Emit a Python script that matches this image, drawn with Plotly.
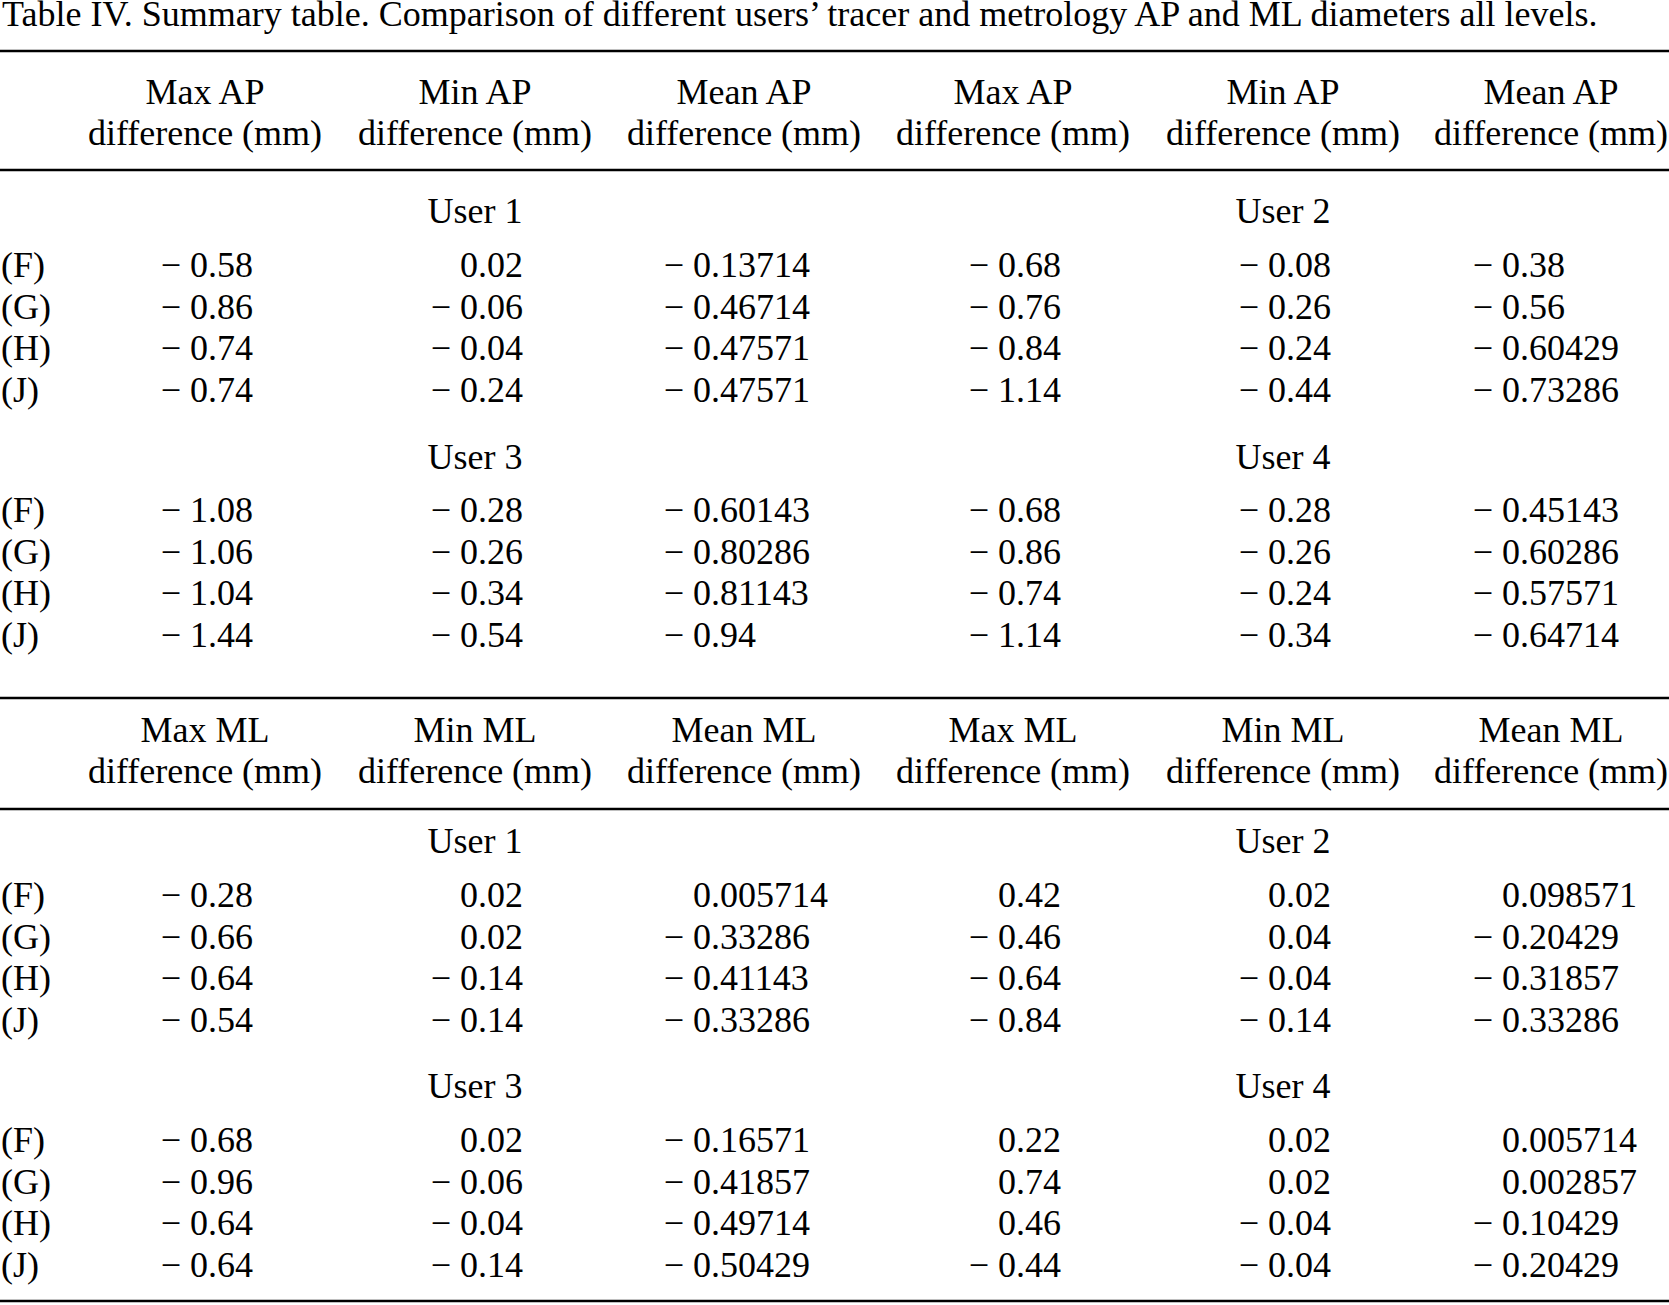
import plotly.graph_objects as go

# ---- data ----
title = ("Table IV. Summary table. Comparison of different users\u2019 tracer "
         "and metrology AP and ML diameters all levels.")
levels = ["(F)", "(G)", "(H)", "(J)"]
users = ["User 1", "User 2", "User 3", "User 4"]
ap_headers = ["Max AP", "Min AP", "Mean AP"]
ml_headers = ["Max ML", "Min ML", "Mean ML"]
unit = "difference (mm)"

# rows F,G,H,J ; columns max, min, mean
ap_user1 = [[-0.58, 0.02, -0.13714], [-0.86, -0.06, -0.46714],
            [-0.74, -0.04, -0.47571], [-0.74, -0.24, -0.47571]]
ap_user2 = [[-0.68, -0.08, -0.38], [-0.76, -0.26, -0.56],
            [-0.84, -0.24, -0.60429], [-1.14, -0.44, -0.73286]]
ap_user3 = [[-1.08, -0.28, -0.60143], [-1.06, -0.26, -0.80286],
            [-1.04, -0.34, -0.81143], [-1.44, -0.54, -0.94]]
ap_user4 = [[-0.68, -0.28, -0.45143], [-0.86, -0.26, -0.60286],
            [-0.74, -0.24, -0.57571], [-1.14, -0.34, -0.64714]]

ml_user1 = [[-0.28, 0.02, 0.005714], [-0.66, 0.02, -0.33286],
            [-0.64, -0.14, -0.41143], [-0.54, -0.14, -0.33286]]
ml_user2 = [[0.42, 0.02, 0.098571], [-0.46, 0.04, -0.20429],
            [-0.64, -0.04, -0.31857], [-0.84, -0.14, -0.33286]]
ml_user3 = [[-0.68, 0.02, -0.16571], [-0.96, -0.06, -0.41857],
            [-0.64, -0.04, -0.49714], [-0.64, -0.14, -0.50429]]
ml_user4 = [[0.22, 0.02, 0.005714], [0.74, 0.02, 0.002857],
            [0.46, -0.04, -0.10429], [-0.44, -0.04, -0.20429]]

# ---- layout (page pixels) ----
W, H = 1669, 1305
FS = 36
FONT = "Liberation Serif"
head_x = [205, 475, 744, 1013, 1283, 1551]
dec_x = [208, 478, 711, 1016, 1286, 1520]
user_x = [head_x[1], head_x[4]]
row_step = 41.5
YOFF = 3           # text centre -> point offset

sections = [
    dict(headers=ap_headers, blocks=[(ap_user1, ap_user2), (ap_user3, ap_user4)],
         rules=(51, 170), head_y=(91.5, 133), user_y=(211, 457), row_y=(265, 510)),
    dict(headers=ml_headers, blocks=[(ml_user1, ml_user2), (ml_user3, ml_user4)],
         rules=(698, 809), head_y=(730, 771), user_y=(841, 1086), row_y=(895, 1140)),
]
bottom_rule = 1301

int_x, int_y, int_t = [], [], []
frac_x, frac_y, frac_t = [], [], []
ctr_x, ctr_y, ctr_t = [], [], []
lab_x, lab_y, lab_t = [], [], []
rules = [bottom_rule]


def split_num(v):
    s = str(v)
    a, b = s.split(".")
    return a.replace("-", "\u2212 "), "." + b


for sec in sections:
    rules += list(sec["rules"])
    for c in range(6):
        ctr_x += [head_x[c], head_x[c]]
        ctr_y += [sec["head_y"][0] + YOFF, sec["head_y"][1] + YOFF]
        ctr_t += [sec["headers"][c % 3], unit]
    for b, (left, right) in enumerate(sec["blocks"]):
        for k in range(2):
            ctr_x.append(user_x[k])
            ctr_y.append(sec["user_y"][b] + YOFF)
            ctr_t.append(users[b * 2 + k])
        for r in range(4):
            y = sec["row_y"][b] + r * row_step + YOFF
            lab_x.append(1)
            lab_y.append(y)
            lab_t.append(levels[r])
            vals = left[r] + right[r]
            for c, v in enumerate(vals):
                a, f = split_num(v)
                int_x.append(dec_x[c]); int_y.append(y); int_t.append(a)
                frac_x.append(dec_x[c]); frac_y.append(y); frac_t.append(f)

font = dict(family=FONT, size=FS, color="black")
fig = go.Figure()
fig.add_trace(go.Scatter(x=[2], y=[17], text=[title], mode="text",
                         textposition="middle right", textfont=font))
fig.add_trace(go.Scatter(x=lab_x, y=lab_y, text=lab_t, mode="text",
                         textposition="middle right", textfont=font))
fig.add_trace(go.Scatter(x=ctr_x, y=ctr_y, text=ctr_t, mode="text",
                         textposition="middle center", textfont=font))
fig.add_trace(go.Scatter(x=int_x, y=int_y, text=int_t, mode="text",
                         textposition="middle left", textfont=font))
fig.add_trace(go.Scatter(x=frac_x, y=frac_y, text=frac_t, mode="text",
                         textposition="middle right", textfont=font))

for y in rules:
    fig.add_shape(type="line", x0=0, x1=W, y0=y, y1=y, xref="x", yref="y",
                  line=dict(color="black", width=2.5))

fig.update_traces(hoverinfo="skip", showlegend=False, cliponaxis=False)
fig.update_layout(
    width=W, height=H,
    margin=dict(l=0, r=0, t=0, b=0),
    paper_bgcolor="white", plot_bgcolor="white",
    xaxis=dict(range=[0, W], visible=False, fixedrange=True),
    yaxis=dict(range=[H, 0], visible=False, fixedrange=True),
    showlegend=False,
)
# drop the page's default body margin so the table fills the window
fig.write_html("out.html", config={"displayModeBar": False},
               post_script="document.body.style.margin='0';"
                           "document.body.style.overflow='hidden';")
